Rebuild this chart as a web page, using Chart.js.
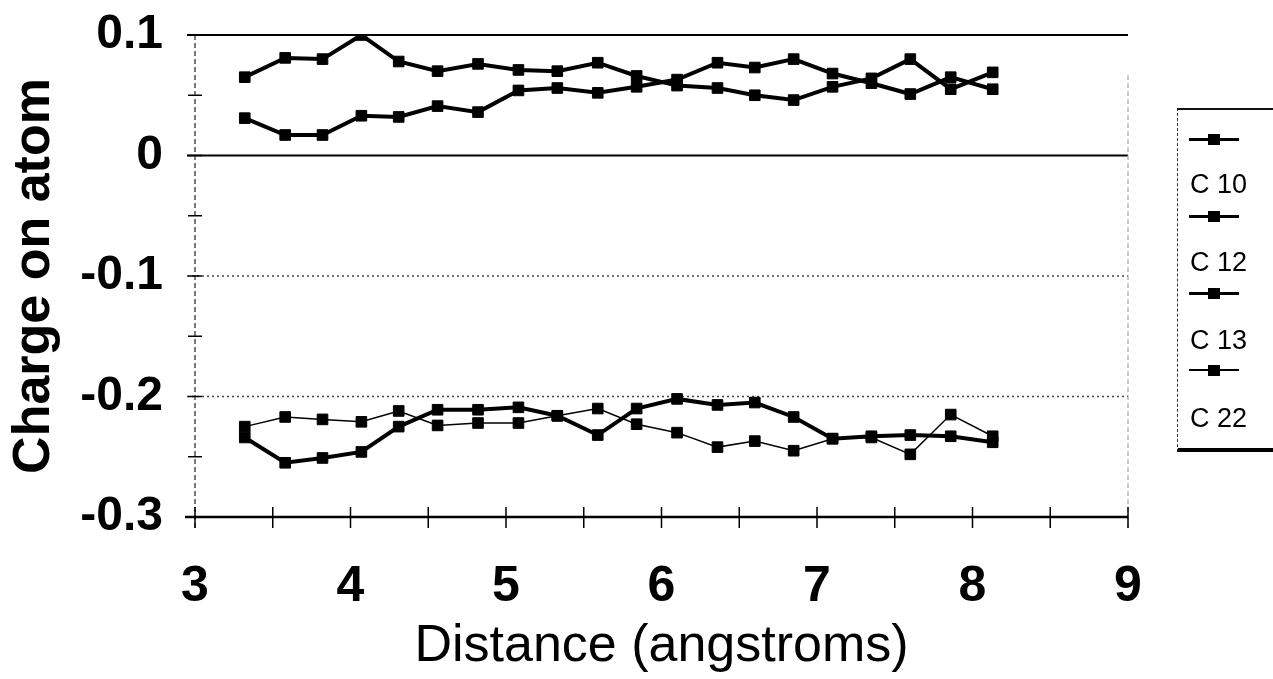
<!DOCTYPE html>
<html lang="en">
<head>
  <meta charset="UTF-8" />
  <title>Charge on atom vs distance</title>
  <script src="https://cdn.jsdelivr.net/npm/chart.js"></script>
  <style>
    body { margin: 0; background: #fff; font-family: Arial, "Liberation Sans", sans-serif; }
    .wrap { position: relative; width: 1273px; height: 679px; }
    #legend { position: absolute; left: 1177px; top: 108px; width: 96px; height: 338px;
      border-top: 2px solid #111; border-left: 1px dashed #333; border-bottom: 4px solid #000; }
    #legend .sample { position: absolute; left: 11px; width: 50px; }
    #legend .sample .ln { position: absolute; left: 0; right: 0; top: 0; background: #000; }
    #legend .sample .mk { position: absolute; left: 19px; width: 12px; height: 11px; background: #000; }
    #legend .lbl { position: absolute; left: 12px; font-size: 27px; color: #000; line-height: 27px; }
  </style>
</head>
<body>
  <div class="wrap">
    <canvas id="chart" width="1273" height="679"></canvas>
    <div id="legend"></div>
  </div>

  <script>
    // distance of each sample (angstroms)
    const distance = [3.32, 3.58, 3.82, 4.07, 4.31, 4.56, 4.82, 5.08, 5.33, 5.59,
                      5.84, 6.10, 6.36, 6.60, 6.85, 7.10, 7.35, 7.60, 7.86, 8.13];

    // partial charges
    const c10 = [0.065, 0.081, 0.080, 0.100, 0.078, 0.070, 0.076, 0.071, 0.070, 0.077,
                 0.066, 0.058, 0.056, 0.050, 0.046, 0.057, 0.064, 0.080, 0.055, 0.069];
    const c12 = [0.031, 0.017, 0.017, 0.033, 0.032, 0.041, 0.036, 0.054, 0.056, 0.052,
                 0.057, 0.063, 0.077, 0.073, 0.080, 0.068, 0.060, 0.051, 0.065, 0.055];
    const c13 = [-0.234, -0.255, -0.251, -0.246, -0.225, -0.211, -0.211, -0.209, -0.216, -0.232,
                 -0.210, -0.202, -0.207, -0.205, -0.217, -0.235, -0.233, -0.232, -0.233, -0.238];
    const c22 = [-0.225, -0.217, -0.219, -0.221, -0.212, -0.224, -0.222, -0.222, -0.216, -0.210,
                 -0.223, -0.230, -0.242, -0.237, -0.245, -0.235, -0.234, -0.248, -0.215, -0.233];

    const seriesNames = ['C 10', 'C 12', 'C 13', 'C 22'];
    const xRange = [3, 9];
    const yRange = [-0.3, 0.1];

    function pts(ys) {
      return ys.map((y, i) => ({ x: distance[i], y: y }));
    }

    function series(label, ys, width) {
      return {
        label: label,
        data: pts(ys),
        borderColor: '#000',
        backgroundColor: '#000',
        borderWidth: width,
        pointStyle: 'rect',
        pointRadius: 7.5,
        pointBorderWidth: 1,
        tension: 0
      };
    }

    // axes, gridlines and crossing ticks, drawn from the scales
    const frame = {
      id: 'frame',
      beforeDatasetsDraw(chart) {
        const ctx = chart.ctx;
        const x = chart.scales.x, y = chart.scales.y;
        const L = x.left, R = x.right;
        ctx.save();

        y.ticks.forEach(t => {
          const py = y.getPixelForValue(t.value);
          const v = Math.round(t.value * 10);
          if (v === -3) return;
          ctx.beginPath();
          if (v >= 0) {
            ctx.strokeStyle = '#000'; ctx.lineWidth = 2; ctx.setLineDash([]);
          } else {
            ctx.strokeStyle = '#444'; ctx.lineWidth = 1.3; ctx.setLineDash([2, 3]);
          }
          ctx.moveTo(L - 8, py); ctx.lineTo(R, py); ctx.stroke();
        });

        // left axis (dashed) and right edge
        ctx.setLineDash([5, 3]);
        ctx.strokeStyle = '#222'; ctx.lineWidth = 1.2;
        ctx.beginPath(); ctx.moveTo(L, y.top); ctx.lineTo(L, y.bottom + 14); ctx.stroke();
        ctx.strokeStyle = '#999'; ctx.lineWidth = 1;
        ctx.beginPath(); ctx.moveTo(R, y.top + 40); ctx.lineTo(R, y.bottom + 14); ctx.stroke();

        // bottom axis
        ctx.setLineDash([]);
        ctx.strokeStyle = '#000'; ctx.lineWidth = 2.5;
        const by = y.getPixelForValue(yRange[0]);
        ctx.beginPath(); ctx.moveTo(L - 10, by); ctx.lineTo(R, by); ctx.stroke();

        // tick marks crossing the axes (every half step)
        ctx.lineWidth = 1.5;
        for (let i = 0; i <= 8; i++) {
          const py = y.getPixelForValue(yRange[0] + i * 0.05);
          ctx.beginPath(); ctx.moveTo(L - 7, py); ctx.lineTo(L + 7, py); ctx.stroke();
        }
        for (let i = 0; i <= 12; i++) {
          const px = x.getPixelForValue(xRange[0] + i * 0.5);
          ctx.beginPath(); ctx.moveTo(px, by - 10); ctx.lineTo(px, by + 11); ctx.stroke();
        }
        ctx.restore();
      }
    };

    const chart = new Chart(document.getElementById('chart'), {
      type: 'line',
      data: {
        datasets: [
          series(seriesNames[0], c10, 4),
          series(seriesNames[1], c12, 4),
          series(seriesNames[2], c13, 4),
          series(seriesNames[3], c22, 1.5)
        ]
      },
      options: {
        responsive: false,
        animation: false,
        layout: { padding: { top: 35, right: 145, left: 0, bottom: 0 } },
        plugins: { legend: { display: false }, tooltip: { enabled: false } },
        scales: {
          x: {
            type: 'linear',
            min: xRange[0], max: xRange[1],
            grid: { display: false, drawTicks: false },
            border: { display: false },
            ticks: { stepSize: 1, color: '#000', padding: 40,
                     font: { family: 'Arial', size: 50, weight: 'bold' } },
            title: { display: true, text: 'Distance (angstroms)', color: '#000',
                     font: { family: 'Arial', size: 52 }, padding: { top: 0, bottom: 1 } },
            afterFit(s) { s.height = 162; s.paddingLeft = 0; s.paddingRight = 0; }
          },
          y: {
            min: yRange[0], max: yRange[1],
            grid: { display: false, drawTicks: false },
            border: { display: false },
            ticks: { stepSize: 0.1, color: '#000', padding: 32,
                     font: { family: 'Arial', size: 48, weight: 'bold' },
                     callback: v => String(+v.toFixed(1)) },
            title: { display: true, text: 'Charge on atom', color: '#000',
                     font: { family: 'Arial', size: 52, weight: 'bold' }, padding: { top: 3, bottom: 0 } },
            afterFit(s) { s.width = 195; s.paddingTop = 0; s.paddingBottom = 0; }
          }
        }
      },
      plugins: [frame]
    });

    // legend: line sample above each label
    const legend = document.getElementById('legend');
    chart.data.datasets.forEach((ds, i) => {
      const sample = document.createElement('div');
      sample.className = 'sample';
      sample.style.top = (29 + i * 77) + 'px';
      const ln = document.createElement('div');
      ln.className = 'ln';
      const h = Math.max(2, ds.borderWidth - 1);
      ln.style.height = h + 'px';
      ln.style.marginTop = (-h / 2) + 'px';
      const mk = document.createElement('div');
      mk.className = 'mk';
      mk.style.top = '-5px';
      sample.appendChild(ln);
      sample.appendChild(mk);
      const lbl = document.createElement('div');
      lbl.className = 'lbl';
      lbl.style.top = (61 + i * 78) + 'px';
      lbl.textContent = ds.label;
      legend.appendChild(sample);
      legend.appendChild(lbl);
    });
  </script>
</body>
</html>
